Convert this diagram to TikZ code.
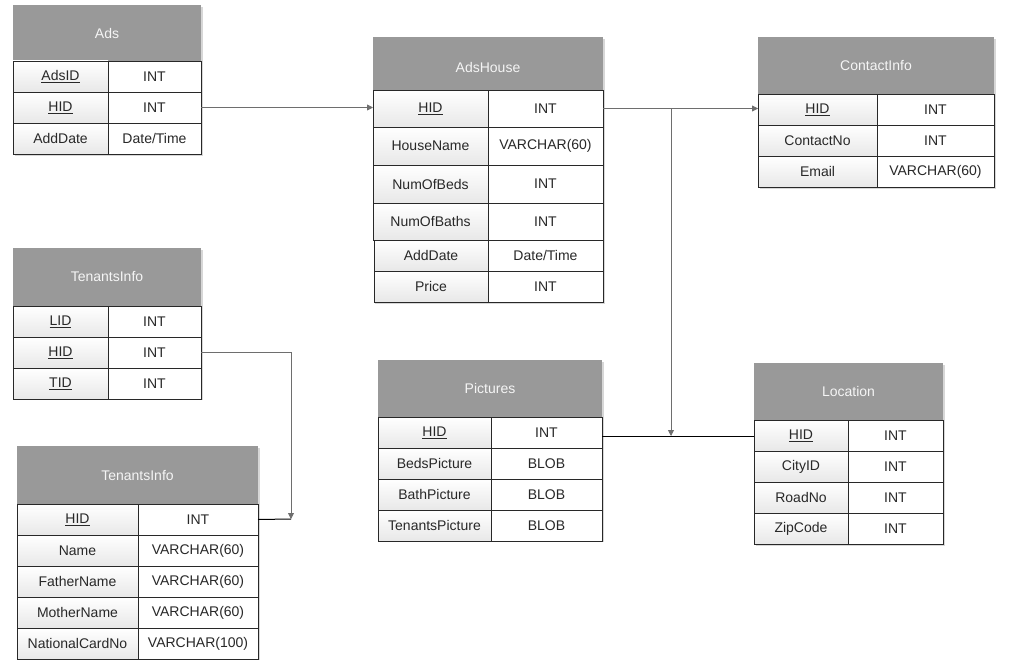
\documentclass[tikz,border=0pt]{standalone}
\usepackage{fontspec}
\setmainfont{Liberation Sans}
\usetikzlibrary{arrows.meta}
\definecolor{hdr}{RGB}{153,153,153}
\definecolor{hdrtxt}{RGB}{245,245,245}
\definecolor{edge}{RGB}{40,40,40}
\definecolor{conn}{RGB}{110,110,110}
\definecolor{shad}{RGB}{215,215,215}
\definecolor{txt}{RGB}{40,40,40}
\tikzset{
  cellbase/.style={draw=edge, line width=0.9pt, inner sep=0pt, outer sep=0pt, anchor=north west, font=\fontsize{14}{16}\selectfont, text=txt},
  headcell/.style={cellbase, draw=none, fill=hdr, text=hdrtxt},
  lowhead/.style={headcell, text height=18pt, text depth=0pt},
  keycell/.style={cellbase, top color=white, bottom color={rgb,255:red,232;green,232;blue,232}},
  typecell/.style={cellbase, fill=white},
  link/.style={draw=conn, line width=0.8pt},
  blink/.style={draw=black, line width=1pt},
  tip/.style={-{Triangle[length=6pt,width=6pt]}},
}
% \ecell{style}{name}{x}{y}{w}{h}{text}
\newcommand{\ecell}[7]{\node[#1, minimum width=#5pt, minimum height=#6pt] (#2) at (#3,#4) {#7};}
% shadow behind a table: x y w h
\newcommand{\eshadow}[4]{\fill[shad] (#1+2,#2+2) rectangle ++(#3,#4);}
\begin{document}
\begin{tikzpicture}[x=1pt,y=-1pt]
\useasboundingbox (0,0) rectangle (1009,669);
\fill[white] (0,0) rectangle (1009,669);

% shadows
\eshadow{13}{5}{188}{149}
\eshadow{373}{37}{230}{265}
\eshadow{758}{37}{236}{150}
\eshadow{13}{248}{188}{150}
\eshadow{17}{446}{241}{212}
\eshadow{378}{360}{224}{180}
\eshadow{754}{363}{189}{181}

% Ads
\ecell{headcell}{adsH}{13}{5}{188}{56}{Ads}
\ecell{keycell}{adsIdN}{13}{61}{95}{31}{\underline{AdsID}}
\ecell{typecell}{adsIdT}{108}{61}{93}{31}{INT}
\ecell{keycell}{adsHidN}{13}{92}{95}{31}{\underline{HID}}
\ecell{typecell}{adsHidT}{108}{92}{93}{31}{INT}
\ecell{keycell}{adsDateN}{13}{123}{95}{31}{AddDate}
\ecell{typecell}{adsDateT}{108}{123}{93}{31}{Date/Time}

% AdsHouse
\ecell{lowhead}{ahH}{373}{37}{230}{53}{AdsHouse}
\ecell{keycell}{ahHidN}{373}{90}{115}{37}{\underline{HID}}
\ecell{typecell}{ahHidT}{488}{90}{115}{37}{INT}
\ecell{keycell}{ahNameN}{373}{127}{115}{38}{HouseName}
\ecell{typecell}{ahNameT}{488}{127}{115}{38}{VARCHAR(60)}
\ecell{keycell}{ahBedsN}{373}{165}{115}{38}{NumOfBeds}
\ecell{typecell}{ahBedsT}{488}{165}{115}{38}{INT}
\ecell{keycell}{ahBathsN}{373}{203}{115}{37}{NumOfBaths}
\ecell{typecell}{ahBathsT}{488}{203}{115}{37}{INT}
\ecell{keycell}{ahDateN}{374}{240}{114}{31}{AddDate}
\ecell{typecell}{ahDateT}{488}{240}{115}{31}{Date/Time}
\ecell{keycell}{ahPriceN}{374}{271}{114}{31}{Price}
\ecell{typecell}{ahPriceT}{488}{271}{115}{31}{INT}

% ContactInfo
\ecell{headcell}{ciH}{758}{37}{236}{57}{ContactInfo}
\ecell{keycell}{ciHidN}{758}{94}{119}{31}{\underline{HID}}
\ecell{typecell}{ciHidT}{877}{94}{117}{31}{INT}
\ecell{keycell}{ciNoN}{758}{125}{119}{31}{ContactNo}
\ecell{typecell}{ciNoT}{877}{125}{117}{31}{INT}
\ecell{keycell}{ciMailN}{758}{156}{119}{31}{Email}
\ecell{typecell}{ciMailT}{877}{156}{117}{31}{VARCHAR(60)}

% TenantsInfo (upper)
\ecell{headcell}{tiH}{13}{248}{188}{58}{TenantsInfo}
\ecell{keycell}{tiLidN}{13}{306}{95}{31}{\underline{LID}}
\ecell{typecell}{tiLidT}{108}{306}{93}{31}{INT}
\ecell{keycell}{tiHidN}{13}{337}{95}{31}{\underline{HID}}
\ecell{typecell}{tiHidT}{108}{337}{93}{31}{INT}
\ecell{keycell}{tiTidN}{13}{368}{95}{31}{\underline{TID}}
\ecell{typecell}{tiTidT}{108}{368}{93}{31}{INT}

% TenantsInfo (lower)
\ecell{headcell}{tbH}{17}{446}{241}{58}{TenantsInfo}
\ecell{keycell}{tbHidN}{17}{504}{121}{31}{\underline{HID}}
\ecell{typecell}{tbHidT}{138}{504}{120}{31}{INT}
\ecell{keycell}{tbNameN}{17}{535}{121}{31}{Name}
\ecell{typecell}{tbNameT}{138}{535}{120}{31}{VARCHAR(60)}
\ecell{keycell}{tbFatherN}{17}{566}{121}{31}{FatherName}
\ecell{typecell}{tbFatherT}{138}{566}{120}{31}{VARCHAR(60)}
\ecell{keycell}{tbMotherN}{17}{597}{121}{31}{MotherName}
\ecell{typecell}{tbMotherT}{138}{597}{120}{31}{VARCHAR(60)}
\ecell{keycell}{tbCardN}{17}{628}{121}{31}{NationalCardNo}
\ecell{typecell}{tbCardT}{138}{628}{120}{31}{VARCHAR(100)}

% Pictures
\ecell{headcell}{pH}{378}{360}{224}{57}{Pictures}
\ecell{keycell}{pHidN}{378}{417}{113}{31}{\underline{HID}}
\ecell{typecell}{pHidT}{491}{417}{111}{31}{INT}
\ecell{keycell}{pBedsN}{378}{448}{113}{31}{BedsPicture}
\ecell{typecell}{pBedsT}{491}{448}{111}{31}{BLOB}
\ecell{keycell}{pBathN}{378}{479}{113}{31}{BathPicture}
\ecell{typecell}{pBathT}{491}{479}{111}{31}{BLOB}
\ecell{keycell}{pTenN}{378}{510}{113}{31}{TenantsPicture}
\ecell{typecell}{pTenT}{491}{510}{111}{31}{BLOB}

% Location
\ecell{headcell}{lH}{754}{363}{189}{57}{Location}
\ecell{keycell}{lHidN}{754}{420}{94}{31}{\underline{HID}}
\ecell{typecell}{lHidT}{848}{420}{95}{31}{INT}
\ecell{keycell}{lCityN}{754}{451}{94}{31}{CityID}
\ecell{typecell}{lCityT}{848}{451}{95}{31}{INT}
\ecell{keycell}{lRoadN}{754}{482}{94}{31}{RoadNo}
\ecell{typecell}{lRoadT}{848}{482}{95}{31}{INT}
\ecell{keycell}{lZipN}{754}{513}{94}{31}{ZipCode}
\ecell{typecell}{lZipT}{848}{513}{95}{31}{INT}

% connectors
\coordinate (jTop) at (671,108.5);
\coordinate (jBot) at (671,436);
\coordinate (jT) at (291,519);
\draw[link,tip] (adsHidT.east) -- (adsHidT.east -| ahHidN.west);
\draw[link,tip] (ahHidT.east) -- (ahHidT.east -| ciHidN.west);
\draw[link,tip] (jTop) -- (jBot);
\draw[blink] (pHidT.east |- jBot) -- (lHidN.west |- jBot);
\draw[link,tip] (tiHidT.east) -| (jT);
\draw[blink] (tbHidT.east) -- (jT);
\end{tikzpicture}
\end{document}
